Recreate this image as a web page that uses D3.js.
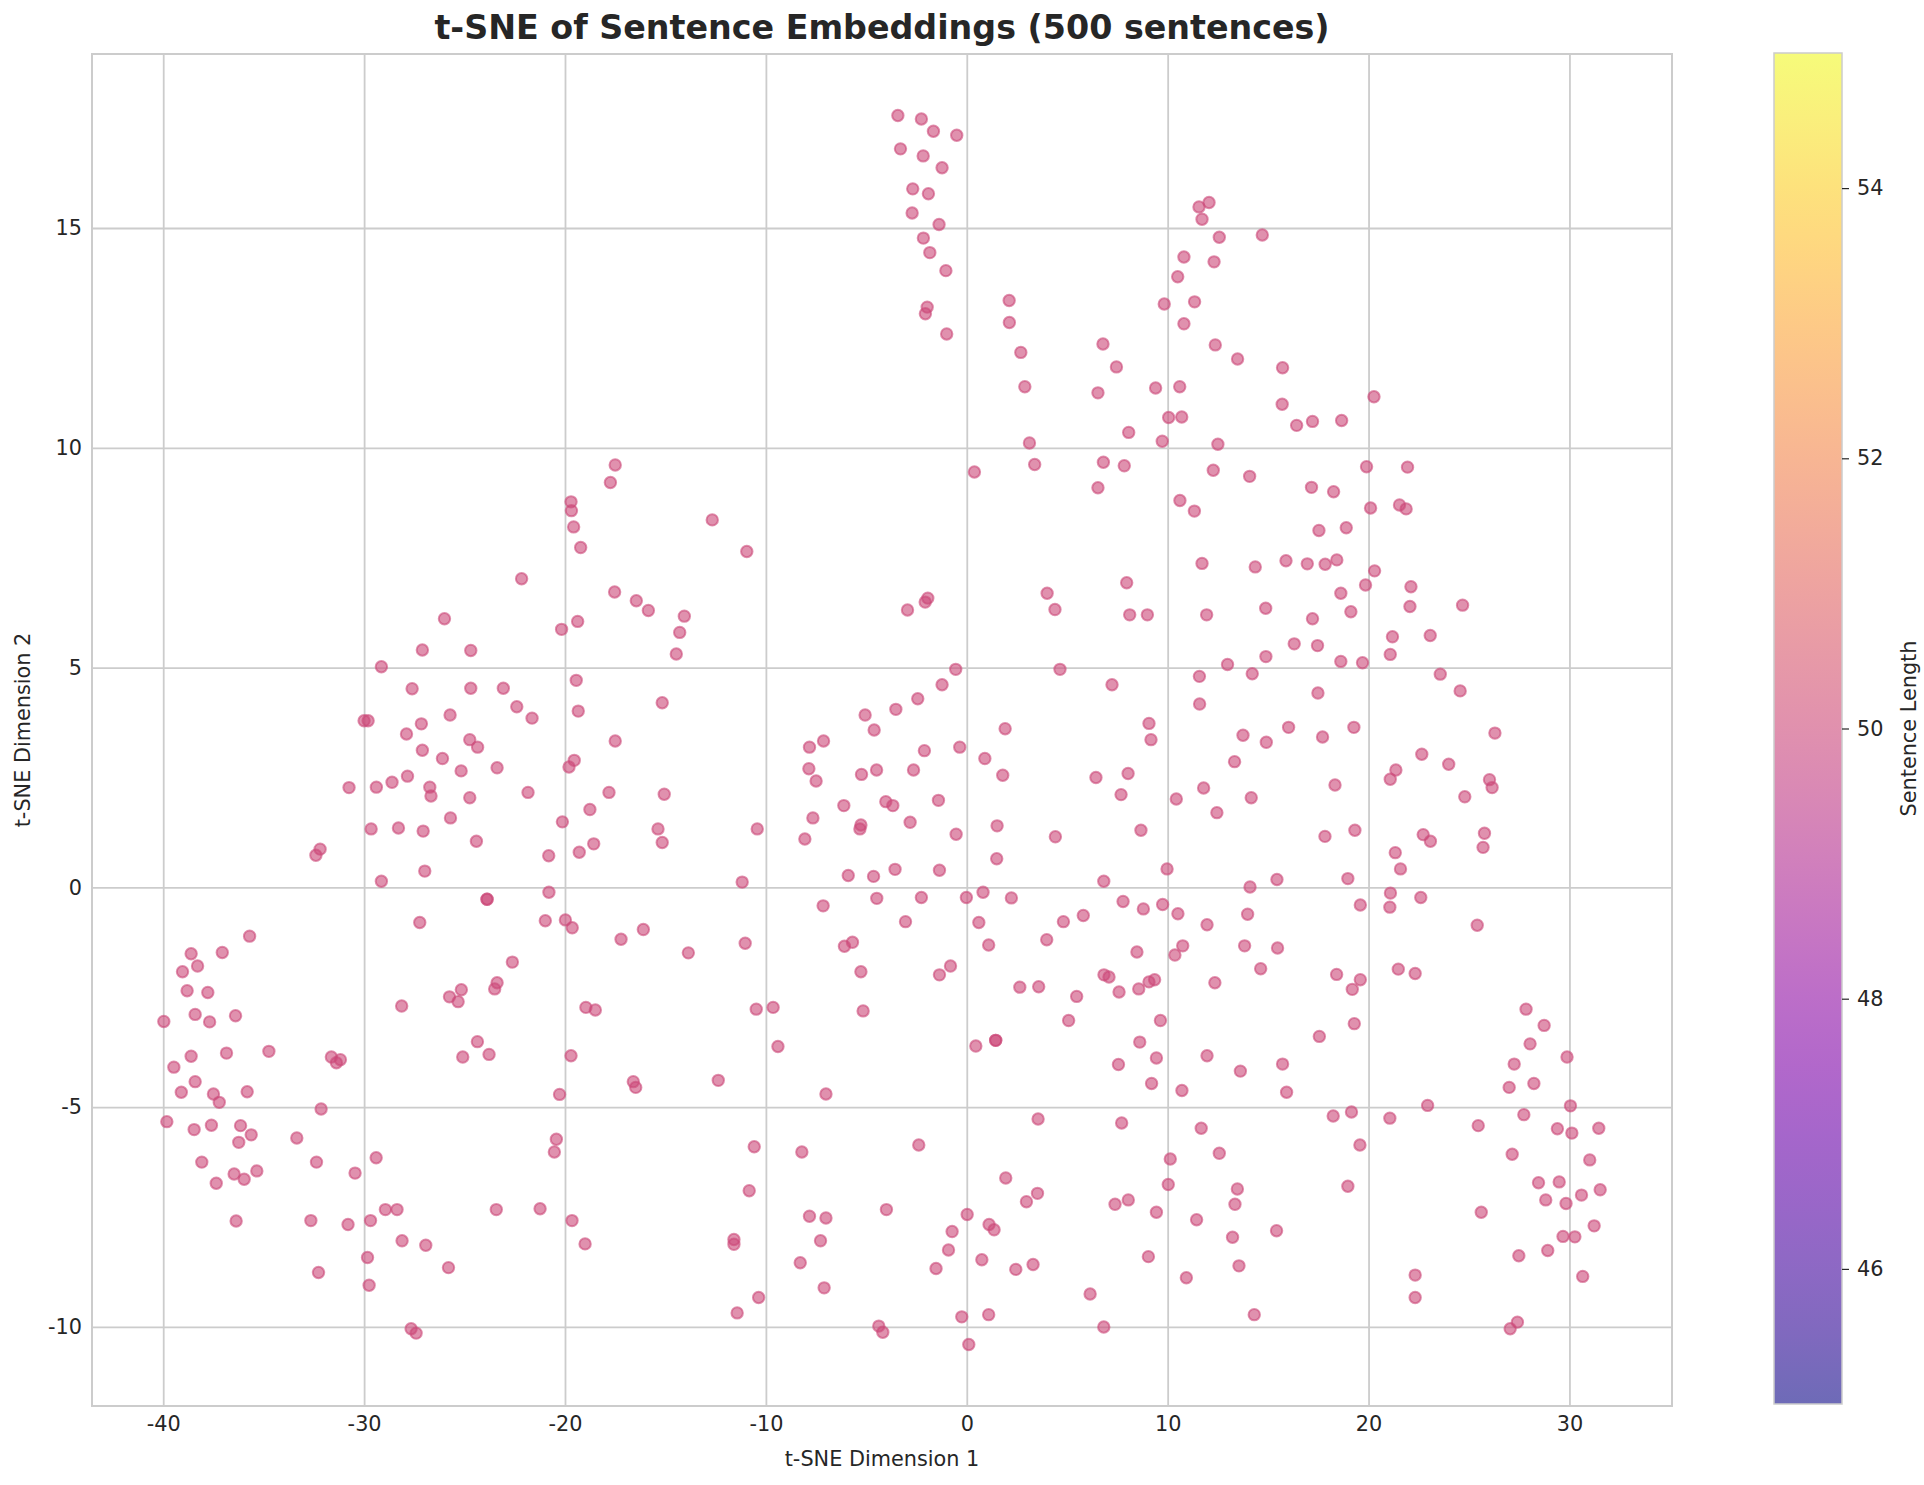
<!DOCTYPE html>
<html>
<head>
<meta charset="utf-8">
<script src="https://cdn.jsdelivr.net/npm/d3@7"></script>
<style>
  body { margin: 0; background: #fff; }
  text { font-family: "DejaVu Sans", sans-serif; fill: #262626; }
</style>
</head>
<body>
<svg id="chart" width="1924" height="1485"></svg>
<script>
// t-SNE coordinates [dim1, dim2]
var topCentre = [
  [-17.50,9.61],[-17.74,9.21],
  [-3.43,17.56],[-2.26,17.48],[-1.66,17.20],[-0.50,17.11],[-3.30,16.80],[-2.17,16.64],[-1.23,16.37],
  [-2.69,15.89],[-1.91,15.78],[-2.72,15.34],[-1.38,15.08],[-2.16,14.77],[-1.84,14.44],[-1.04,14.03],
  [-1.97,13.20],[-2.06,13.05],[-1.00,12.59],[2.11,13.35],[2.12,12.85],[2.69,12.17],[2.89,11.39],
  [3.12,10.11],[3.38,9.62],[0.38,9.45],[6.78,12.36],[7.45,11.84],[6.53,11.25],[8.06,10.35],
  [9.40,11.36],[10.60,11.39],[10.05,10.69],[10.70,10.70],[9.73,10.15],[6.80,9.67],[7.84,9.59],
  [6.53,9.09],[10.61,8.80],[12.50,10.08],[12.27,9.49],[14.08,9.35],[12.37,12.34],[13.48,12.02],
  [9.83,13.27],[11.34,13.32],[10.81,12.82],[10.50,13.89],[10.81,14.34],[12.31,14.23],[12.57,14.79],
  [14.71,14.84],[11.56,15.48],[12.06,15.58],[11.71,15.20]
];
var topRight = [
  [15.72,11.82],[15.70,10.99],[16.42,10.51],[17.21,10.60],[18.66,10.62],[20.27,11.16],[19.90,9.57],
  [21.94,9.56],[17.16,9.10],[18.26,9.00]
];
var midFarLeft = [
  [-26.00,6.11],[-27.10,5.40],[-29.14,5.02],[-27.61,4.52],[-30.00,3.79],[-29.80,3.79],[-25.72,3.92],
  [-27.15,3.72],[-27.89,3.49],[-27.10,3.12],[-26.10,2.93],[-25.17,2.65],[-30.75,2.27],[-29.39,2.28],
  [-28.61,2.39],[-27.84,2.53],[-26.73,2.28],[-26.67,2.08],[-25.70,1.58],[-29.65,1.33],[-28.29,1.35],
  [-27.06,1.28],[-32.19,0.87],[-32.40,0.73],[-26.98,0.37],[-29.14,0.14],[-27.23,-0.80],[-35.70,-1.11]
];
var midLeft = [
  [-19.70,8.77],[-19.68,8.57],[-19.57,8.20],[-19.22,7.73],[-22.16,7.02],[-17.53,6.72],[-16.45,6.52],
  [-15.85,6.30],[-14.06,6.17],[-14.29,5.80],[-14.46,5.31],[-12.67,8.36],[-10.95,7.64],[-20.17,5.87],
  [-19.37,6.05],[-24.69,5.39],[-24.69,4.53],[-23.07,4.53],[-22.40,4.11],[-21.64,3.85],[-19.44,4.71],
  [-19.34,4.01],[-15.16,4.20],[-17.50,3.33],[-24.74,3.36],[-24.35,3.19],[-23.38,2.72],[-21.84,2.16],
  [-24.74,2.04],[-19.54,2.89],[-19.80,2.74],[-17.81,2.16],[-18.76,1.77],[-20.13,1.49],[-15.06,2.12],
  [-15.37,1.33],[-15.16,1.02],[-18.57,0.99],[-19.29,0.80],[-20.81,0.72],[-24.41,1.05],[-10.43,1.33],
  [-11.18,0.12],[-20.80,-0.11],[-23.88,-0.27],[-23.88,-0.27],[-20.98,-0.76],[-19.98,-0.74],[-19.64,-0.92],
  [-17.21,-1.18],[-16.10,-0.96],[-11.03,-1.27],[-7.83,3.19],[-7.13,3.33],[-7.86,2.70],[-7.50,2.42],
  [-5.24,2.57],[-5.06,3.92],[-6.12,1.86],[-7.66,1.58],[-5.27,1.42],[-5.32,1.33],[-8.06,1.10],
  [-5.90,0.27],[-7.15,-0.42],[-6.09,-1.34],[-5.69,-1.25]
];
var midCentre = [
  [11.33,8.56],[11.71,7.37],[14.36,7.29],[14.88,6.35],[11.94,6.20],[7.96,6.93],[8.11,6.20],[8.99,6.20],
  [4.00,6.69],[4.39,6.32],[4.64,4.96],[7.23,4.61],[-1.94,6.58],[-2.07,6.49],[-2.95,6.31],[-0.55,4.96],
  [-1.23,4.61],[-2.44,4.29],[-3.53,4.05],[-4.61,3.58],[1.91,3.61],[-2.11,3.11],[-0.35,3.19],[0.90,2.93],
  [1.79,2.55],[-4.49,2.67],[-2.65,2.67],[-4.03,1.95],[-3.68,1.86],[-1.41,1.98],[-2.82,1.48],[-0.53,1.21],
  [1.51,1.40],[1.49,0.65],[4.41,1.15],[-4.64,0.25],[-3.57,0.41],[-1.36,0.39],[-4.48,-0.25],[-2.26,-0.23],
  [-0.02,-0.23],[0.81,-0.11],[2.22,-0.24],[-3.05,-0.78],[0.60,-0.80],[1.09,-1.31],[3.98,-1.19],
  [4.81,-0.78],[5.80,-0.64],[7.78,-0.32],[8.79,-0.49],[9.75,-0.39],[10.51,-0.60],[11.96,-0.85],
  [13.98,-0.61],[14.10,0.01],[6.82,0.14],[9.97,0.42],[10.75,-1.33],[13.83,-1.33],[6.43,2.50],[8.03,2.59],
  [7.68,2.11],[8.67,1.30],[9.07,3.73],[9.17,3.36],[10.43,2.01],[11.79,2.26],[12.45,1.70],[14.16,2.04],
  [11.58,4.80],[11.59,4.17],[12.98,5.07],[14.21,4.86],[14.89,5.25],[13.75,3.46],[13.33,2.86],[14.91,3.30]
];
var midRight = [
  [20.10,8.63],[21.54,8.70],[21.87,8.61],[17.53,8.12],[18.89,8.18],[15.89,7.43],[16.95,7.36],[17.84,7.35],
  [18.42,7.45],[20.30,7.20],[19.85,6.88],[22.11,6.84],[18.62,6.69],[22.06,6.39],[24.68,6.42],[19.12,6.27],
  [17.21,6.11],[21.19,5.70],[23.07,5.73],[21.08,5.30],[16.30,5.54],[17.46,5.50],[18.62,5.14],[19.70,5.11],
  [23.57,4.85],[24.56,4.47],[17.48,4.42],[16.02,3.64],[17.71,3.42],[19.27,3.64],[26.29,3.51],[22.65,3.03],
  [23.99,2.80],[21.36,2.67],[21.08,2.46],[26.02,2.45],[26.15,2.27],[24.79,2.06],[18.33,2.33],[17.83,1.16],
  [19.32,1.30],[22.72,1.20],[23.08,1.05],[25.77,1.23],[25.70,0.91],[21.33,0.79],[21.59,0.42],[15.44,0.18],
  [18.97,0.20],[21.09,-0.13],[22.60,-0.23],[19.59,-0.40],[21.06,-0.45],[25.41,-0.86],[15.47,-1.38]
];
var lowFarLeft = [
  [-38.61,-1.51],[-37.06,-1.48],[-38.29,-1.79],[-39.04,-1.92],[-38.81,-2.35],[-37.78,-2.39],[-39.97,-3.05],
  [-38.41,-2.89],[-37.69,-3.06],[-36.40,-2.92],[-28.13,-2.70],[-25.75,-2.49],[-25.16,-2.33],[-25.32,-2.60],
  [-25.09,-3.86],[-38.61,-3.84],[-39.47,-4.09],[-36.85,-3.77],[-34.74,-3.73],[-31.63,-3.86],[-31.18,-3.92],
  [-31.38,-3.99],[-38.41,-4.42],[-39.10,-4.66],[-37.50,-4.70],[-37.21,-4.89],[-35.82,-4.65],[-32.14,-5.04],
  [-39.82,-5.33],[-38.46,-5.51],[-37.60,-5.41],[-36.15,-5.42],[-35.62,-5.63],[-36.24,-5.80],[-33.35,-5.70],
  [-32.37,-6.25],[-29.40,-6.15],[-30.45,-6.50],[-38.08,-6.25],[-36.47,-6.52],[-35.97,-6.64],[-35.34,-6.45],
  [-37.36,-6.73],[-36.37,-7.59],[-32.65,-7.58],[-30.80,-7.67],[-29.68,-7.58],[-28.94,-7.33],[-28.36,-7.33],
  [-28.11,-8.04],[-26.93,-8.14],[-29.83,-8.42],[-25.80,-8.65],[-32.27,-8.76],[-29.75,-9.05],[-27.66,-10.04],
  [-27.41,-10.14]
];
var lowLeft = [
  [-22.62,-1.70],[-23.38,-2.17],[-23.50,-2.31],[-24.36,-3.51],[-23.78,-3.80],[-18.96,-2.73],[-18.49,-2.79],
  [-19.70,-3.83],[-20.27,-4.71],[-16.60,-4.42],[-16.48,-4.55],[-12.37,-4.39],[-13.86,-1.49],[-10.48,-2.77],
  [-9.64,-2.73],[-9.40,-3.62],[-5.27,-1.92],[-5.16,-2.81],[-7.01,-4.70],[-20.43,-5.73],[-20.53,-6.02],
  [-23.42,-7.33],[-21.24,-7.31],[-19.65,-7.58],[-19.00,-8.11],[-10.58,-5.90],[-8.21,-6.02],[-10.83,-6.90],
  [-7.83,-7.48],[-7.01,-7.52],[-7.28,-8.04],[-8.29,-8.54],[-7.10,-9.11],[-11.59,-8.01],[-11.59,-8.12],
  [-10.36,-9.33],[-11.43,-9.68]
];
var lowCentre = [
  [-1.36,-1.99],[-0.81,-1.79],[2.64,-2.27],[3.58,-2.26],[0.45,-3.61],[1.44,-3.48],[1.44,-3.48],[5.07,-3.03],
  [5.47,-2.48],[6.83,-1.99],[7.08,-2.04],[7.58,-2.38],[8.56,-2.31],[9.07,-2.15],[9.35,-2.10],[8.47,-1.47],
  [10.36,-1.54],[14.63,-1.85],[12.35,-2.17],[9.64,-3.03],[8.61,-3.52],[9.44,-3.88],[7.55,-4.03],[9.20,-4.46],
  [10.71,-4.62],[11.96,-3.83],[13.62,-4.18],[3.55,-5.27],[7.71,-5.36],[11.67,-5.48],[12.57,-6.05],
  [10.13,-6.18],[10.03,-6.76],[13.47,-6.86],[13.35,-7.21],[-2.39,-5.86],[-4.00,-7.33],[1.94,-6.61],
  [3.52,-6.96],[2.97,-7.15],[0.02,-7.44],[1.11,-7.67],[1.36,-7.79],[-0.73,-7.83],[-0.91,-8.25],[-1.53,-8.67],
  [0.75,-8.47],[2.44,-8.69],[3.30,-8.58],[7.38,-7.21],[8.04,-7.11],[9.44,-7.39],[11.44,-7.56],[13.23,-7.96],
  [9.04,-8.40],[10.93,-8.88],[13.55,-8.61],[6.14,-9.25],[14.31,-9.72],[6.82,-10.00],[-4.38,-9.98],
  [-4.18,-10.12],[-0.25,-9.77],[1.09,-9.72],[0.10,-10.40]
];
var lowRight = [
  [18.41,-1.98],[19.59,-2.10],[19.19,-2.32],[21.48,-1.86],[22.32,-1.96],[19.29,-3.10],[17.55,-3.39],
  [15.72,-4.02],[15.92,-4.66],[18.24,-5.20],[19.15,-5.11],[21.06,-5.25],[22.94,-4.96],[19.57,-5.86],
  [18.97,-6.80],[15.42,-7.81],[25.46,-5.42],[25.61,-7.39],[22.32,-8.82],[22.32,-9.33],[27.05,-10.04],
  [27.41,-9.89],[27.84,-2.77],[28.74,-3.14],[28.04,-3.56],[29.88,-3.86],[27.25,-4.02],[28.23,-4.46],
  [27.00,-4.55],[30.05,-4.97],[27.73,-5.17],[29.40,-5.49],[30.12,-5.59],[31.46,-5.48],[27.15,-6.07],
  [31.01,-6.20],[28.46,-6.72],[29.49,-6.70],[31.53,-6.88],[30.60,-7.00],[28.82,-7.11],[29.83,-7.19],
  [31.23,-7.70],[29.68,-7.94],[30.27,-7.95],[28.92,-8.26],[27.48,-8.38],[30.66,-8.85]
];

// every sentence in the picture has the same length colour
var sentenceLength = 50;
var lengthRange = [45, 55];
var xTicks = [-40, -30, -20, -10, 0, 10, 20, 30];
var yTicks = [-10, -5, 0, 5, 10, 15];
var barTicks = [46, 48, 50, 52, 54];

var points = [].concat(topCentre, topRight, midFarLeft, midLeft, midCentre,
  midRight, lowFarLeft, lowLeft, lowCentre, lowRight);

var svg = d3.select("#chart");
var plotLeft = 92, plotRight = 1672, plotTop = 54, plotBottom = 1406;
var gridColor = "#cccccc";

// matplotlib style 5% margins round the data
var xExt = d3.extent(points, d => d[0]);
var yExt = d3.extent(points, d => d[1]);
var xPad = (xExt[1] - xExt[0]) * 0.05;
var yPad = (yExt[1] - yExt[0]) * 0.05;

var x = d3.scaleLinear().domain([xExt[0] - xPad, xExt[1] + xPad]).range([plotLeft, plotRight]);
var y = d3.scaleLinear().domain([yExt[0] - yPad, yExt[1] + yPad]).range([plotBottom, plotTop]);
var color = d3.scaleSequential(d3.interpolatePlasma).domain(lengthRange);

// grid + tick labels
var gx = svg.append("g")
  .attr("transform", "translate(0," + plotBottom + ")")
  .call(d3.axisBottom(x).tickValues(xTicks).tickSize(-(plotBottom - plotTop)).tickPadding(10)
    .tickFormat(d => String(d)));
var gy = svg.append("g")
  .attr("transform", "translate(" + plotLeft + ",0)")
  .call(d3.axisLeft(y).tickValues(yTicks).tickSize(-(plotRight - plotLeft)).tickPadding(10)
    .tickFormat(d => String(d)));
[gx, gy].forEach(function(g) {
  g.select(".domain").remove();
  g.selectAll(".tick line").attr("stroke", gridColor).attr("stroke-width", 1.8);
  g.selectAll(".tick text").attr("font-size", 20.8).attr("fill", "#262626")
    .attr("font-family", "DejaVu Sans");
});

svg.append("rect")
  .attr("x", plotLeft).attr("y", plotTop)
  .attr("width", plotRight - plotLeft).attr("height", plotBottom - plotTop)
  .attr("fill", "none").attr("stroke", gridColor).attr("stroke-width", 2);

svg.append("g")
  .selectAll("circle")
  .data(points)
  .join("circle")
  .attr("cx", d => x(d[0]))
  .attr("cy", d => y(d[1]))
  .attr("r", 5.7)
  .attr("fill", color(sentenceLength))
  .attr("fill-opacity", 0.6)
  .attr("stroke", color(sentenceLength))
  .attr("stroke-opacity", 0.6)
  .attr("stroke-width", 2);

// titles
svg.append("text")
  .attr("x", (plotLeft + plotRight) / 2).attr("y", 39)
  .attr("text-anchor", "middle")
  .attr("font-size", 33.3).attr("font-weight", "bold")
  .text("t-SNE of Sentence Embeddings (500 sentences)");
svg.append("text")
  .attr("x", (plotLeft + plotRight) / 2).attr("y", 1466)
  .attr("text-anchor", "middle").attr("font-size", 20.8)
  .text("t-SNE Dimension 1");
svg.append("text")
  .attr("transform", "translate(30," + (plotTop + plotBottom) / 2 + ") rotate(-90)")
  .attr("text-anchor", "middle").attr("font-size", 20.8)
  .text("t-SNE Dimension 2");

// colour bar
var cbLeft = 1774, cbRight = 1842, cbTop = 53, cbBottom = 1404;
var cb = d3.scaleLinear().domain(lengthRange).range([cbBottom, cbTop]);
var grad = svg.append("defs").append("linearGradient")
  .attr("id", "plasmaGrad")
  .attr("x1", 0).attr("y1", 1).attr("x2", 0).attr("y2", 0);
grad.selectAll("stop")
  .data(d3.range(0, 1.0001, 0.05))
  .join("stop")
  .attr("offset", d => d)
  .attr("stop-color", d => d3.interpolatePlasma(d))
  .attr("stop-opacity", 0.6);
svg.append("rect")
  .attr("x", cbLeft).attr("y", cbTop)
  .attr("width", cbRight - cbLeft).attr("height", cbBottom - cbTop)
  .attr("fill", "url(#plasmaGrad)")
  .attr("stroke", gridColor).attr("stroke-width", 1.5);

var gc = svg.append("g")
  .attr("transform", "translate(" + cbRight + ",0)")
  .call(d3.axisRight(cb).tickValues(barTicks).tickSize(7).tickPadding(8)
    .tickFormat(d => String(d)));
gc.select(".domain").remove();
gc.selectAll(".tick line").attr("stroke", "#262626").attr("stroke-width", 1.2);
gc.selectAll(".tick text").attr("font-size", 20.8).attr("fill", "#262626")
  .attr("font-family", "DejaVu Sans");

svg.append("text")
  .attr("transform", "translate(1916," + (cbTop + cbBottom) / 2 + ") rotate(-90)")
  .attr("text-anchor", "middle").attr("font-size", 20.8)
  .text("Sentence Length");
</script>
</body>
</html>
